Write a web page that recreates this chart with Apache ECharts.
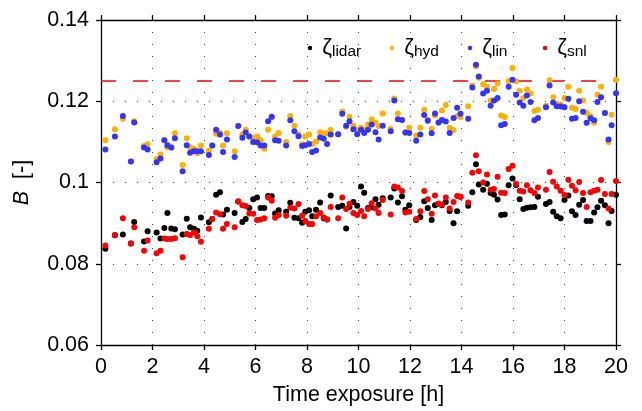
<!DOCTYPE html>
<html>
<head>
<meta charset="utf-8">
<script src="https://cdn.jsdelivr.net/npm/echarts@6/dist/echarts.min.js"></script>
<style>
html,body{margin:0;padding:0;background:#fff;}
#chart{width:642px;height:411px;}
</style>
</head>
<body>
<div id="chart"></div>
<script>
// time exposure [h]
var times = [
0.17,0.54,0.85,1.16,1.29,1.67,1.81,2.16,2.31,2.46,
2.58,2.73,2.87,3.17,3.33,3.46,3.61,3.74,3.88,4.19,
4.32,4.47,4.62,4.74,4.89,5.19,5.33,5.49,5.62,5.76,
5.91,6.06,6.20,6.34,6.49,6.63,6.76,6.90,7.19,7.35,
7.51,7.67,7.81,7.93,8.08,8.20,8.35,8.51,8.65,8.78,
8.92,9.21,9.37,9.52,9.65,9.80,9.95,10.10,10.22,10.37,
10.51,10.66,10.78,10.94,11.25,11.39,11.53,11.69,11.82,11.97,
12.24,12.40,12.55,12.69,12.84,12.97,13.11,13.24,13.39,13.54,
13.69,13.83,13.96,14.26,14.42,14.56,14.67,14.84,14.99,15.13,
15.26,15.40,15.54,15.68,15.83,15.98,16.12,16.26,16.40,16.54,
16.68,16.83,16.97,17.28,17.42,17.56,17.70,17.85,18.00,18.15,
18.29,18.43,18.57,18.72,18.86,19.01,19.15,19.28,19.42,19.57,
19.71,19.83,20.00];

var lidar = [
.0837,.0870,.0872,.0850,.0903,.0855,.0880,.0877,.0862,.0888,
.0925,.0887,.0885,.0872,.0911,.0890,.0886,.0881,.0914,.0902,
.0910,.0970,.0976,.0921,.0933,.0925,.0953,.0903,.0910,.0937,
.0959,.0963,.0937,.0937,.0967,.0966,.0924,.0932,.0928,.0950,
.0913,.0912,.0901,.0928,.0932,.0917,.0933,.0951,.0912,.0909,
.0968,.0940,.0943,.0887,.0940,.0952,.0943,.0990,.0975,.0937,
.0939,.0959,.0945,.0961,.0963,.0985,.0951,.0966,.0933,.0944,
.0908,.0915,.0954,.0937,.0908,.0944,.0948,.0944,.0952,.0930,
.0900,.0929,.0965,.0943,.0976,.1045,.0995,.0982,.0997,.0974,
.0970,.0958,.0920,.0921,.0993,.1010,.0994,.0959,.0935,.0938,
.0939,.0940,.0965,.0947,.0952,.0928,.0917,.0912,.0957,.0968,
.0929,.0920,.0945,.0957,.0905,.0905,.0926,.0939,.0955,.0944,
.0900,.0930,.0970];

var hyd = [
.1104,.1131,.1157,.1052,.1151,.1090,.1094,.1057,.1069,.1104,
.1087,.1086,.1121,.1043,.1109,.1087,.1083,.1072,.1091,.1078,
.1091,.1120,.1122,.1091,.1121,.1077,.1139,.1118,.1130,.1113,
.1110,.1113,.1104,.1083,.1130,.1160,.1113,.1122,.1100,.1164,
.1140,.1119,.1094,.1113,.1118,.1095,.1101,.1124,.1121,.1121,
.1129,.1119,.1175,.1137,.1162,.1140,.1130,.1135,.1130,.1143,
.1156,.1148,.1139,.1170,.1132,.1207,.1170,.1154,.1123,.1135,
.1116,.1135,.1179,.1155,.1132,.1165,.1148,.1177,.1191,.1135,
.1129,.1163,.1161,.1188,.1239,.1286,.1258,.1242,.1236,.1202,
.1230,.1244,.1165,.1161,.1249,.1282,.1249,.1226,.1208,.1229,
.1219,.1176,.1179,.1189,.1252,.1210,.1193,.1192,.1208,.1236,
.1184,.1181,.1226,.1202,.1171,.1163,.1147,.1216,.1236,.1171,
.1100,.1167,.1253];

var lin = [
.1081,.1113,.1164,.1052,.1148,.1086,.1081,.1050,.1059,.1104,
.1092,.1086,.1109,.1028,.1092,.1073,.1077,.1077,.1077,.1068,
.1091,.1130,.1118,.1075,.1106,.1063,.1139,.1110,.1123,.1113,
.1100,.1099,.1091,.1091,.1151,.1162,.1104,.1103,.1091,.1153,
.1126,.1114,.1090,.1092,.1095,.1075,.1079,.1111,.1108,.1095,
.1118,.1119,.1169,.1140,.1151,.1131,.1119,.1130,.1122,.1130,
.1143,.1124,.1106,.1140,.1126,.1202,.1156,.1154,.1123,.1122,
.1103,.1118,.1166,.1152,.1121,.1170,.1148,.1154,.1150,.1122,
.1159,.1184,.1169,.1157,.1234,.1290,.1261,.1219,.1226,.1189,
.1202,.1208,.1141,.1144,.1236,.1253,.1216,.1197,.1189,.1214,
.1198,.1153,.1159,.1185,.1239,.1197,.1188,.1187,.1185,.1206,
.1157,.1159,.1200,.1174,.1147,.1158,.1153,.1198,.1210,.1171,
.1106,.1141,.1220];

var snl = [
.0845,.0871,.0912,.0850,.0890,.0832,.0857,.0826,.0832,.0862,
.0861,.0861,.0863,.0816,.0873,.0871,.0877,.0868,.0854,.0886,
.0910,.0926,.0922,.0886,.0898,.0890,.0953,.0944,.0942,.0924,
.0923,.0908,.0909,.0912,.0963,.0955,.0913,.0920,.0918,.0938,
.0936,.0947,.0918,.0905,.0898,.0898,.0917,.0925,.0914,.0909,
.0940,.0912,.0963,.0935,.0948,.0925,.0920,.0930,.0917,.0935,
.0949,.0936,.0925,.0957,.0921,.0990,.0988,.0979,.0926,.0928,
.0910,.0929,.0979,.0959,.0923,.0968,.0948,.0946,.0963,.0936,
.0952,.0967,.0965,.0951,.1024,.1067,.1028,.1000,.1020,.0982,
.0984,.1014,.0975,.0974,.1033,.1041,.0997,.0980,.0978,.0993,
.0981,.0974,.0988,.0982,.1026,.1002,.0990,.0980,.0969,.1007,
.0992,.0981,.1001,.0974,.0940,.0976,.0980,.0982,.1006,.0972,
.0936,.0972,.1004];

var refLevel = 0.125;
var xTicks = {min: 0, max: 20, interval: 2};
var yTicks = {min: 0.06, max: 0.14, interval: 0.02};
var seriesNames = ['ζlidar', 'ζhyd', 'ζlin', 'ζsnl'];
var seriesColors = ['#000000', '#FFB000', '#3434FF', '#FF0000'];
var seriesData = [lidar, hyd, lin, snl];

function pairs(vals) {
  return vals.map(function (v, i) { return [times[i], v]; });
}

var FONT = 'Liberation Sans';
var FS = 21.5;
var axisLineStyle = {color: '#000', width: 1.3};

var chart = echarts.init(document.getElementById('chart'), null, {renderer: 'canvas'});

var series = seriesNames.map(function (n, k) {
  return {
    name: n, type: 'scatter', data: pairs(seriesData[k]),
    symbol: 'circle', symbolSize: 6,
    itemStyle: {color: seriesColors[k], opacity: 1},
    z: 3 + k
  };
});
series.push({
  name: 'ref', type: 'line', data: [[xTicks.min, refLevel], [xTicks.max, refLevel]],
  symbol: 'none', silent: true, z: 2,
  lineStyle: {color: '#FF0000', width: 1.4, type: [15, 17]}
});

// one legend block per entry so each key sits where it does in the figure
var legendLeft = [307.75, 389.75, 467.75, 542.75];
var legends = seriesNames.map(function (n, k) {
  return {
    data: [n], left: legendLeft[k], top: 37, padding: 0,
    itemWidth: 4.5, itemHeight: 4.5, icon: 'circle',
    formatter: function (s) { return '{z|' + s.charAt(0) + '}{s|' + s.slice(1) + '}'; },
    textStyle: {
      color: '#000', fontFamily: FONT,
      rich: {
        z: {fontSize: 22, lineHeight: 24, fontFamily: FONT, color: '#000', padding: [0, 0, 0, 5]},
        s: {fontSize: 15.5, lineHeight: 12, verticalAlign: 'bottom', fontFamily: FONT, color: '#000'}
      }
    }
  };
});

var option = {
  animation: false,
  backgroundColor: '#fff',
  grid: {left: 101, right: 26, top: 20, bottom: 64, containLabel: false},
  legend: legends,
  xAxis: [{
    type: 'value', min: xTicks.min, max: xTicks.max, interval: xTicks.interval,
    position: 'bottom',
    name: 'Time exposure [h]', nameLocation: 'middle', nameGap: 39,
    nameTextStyle: {color: '#000', fontSize: FS, fontFamily: FONT},
    axisLine: {show: true, onZero: false, lineStyle: axisLineStyle},
    axisTick: {show: true, inside: false, length: 5, lineStyle: axisLineStyle},
    axisLabel: {color: '#000', fontSize: FS, fontFamily: FONT, margin: 11},
    splitLine: {show: true, lineStyle: {color: '#444', width: 1, type: [1, 11]}}
  }, {
    type: 'value', min: xTicks.min, max: xTicks.max, interval: xTicks.interval,
    position: 'top',
    axisLine: {show: true, onZero: false, lineStyle: axisLineStyle},
    axisTick: {show: true, inside: false, length: 5, lineStyle: axisLineStyle},
    axisLabel: {show: false}, splitLine: {show: false}
  }],
  yAxis: [{
    type: 'value', min: yTicks.min, max: yTicks.max, interval: yTicks.interval,
    position: 'left',
    name: '{i|B}  [-]', nameLocation: 'middle', nameGap: 68,
    nameTextStyle: {color: '#000', fontSize: FS, fontFamily: FONT,
      rich: {i: {fontStyle: 'italic', fontSize: FS, fontFamily: FONT, color: '#000'}}},
    axisLine: {show: true, onZero: false, lineStyle: axisLineStyle},
    axisTick: {show: true, inside: false, length: 5, lineStyle: axisLineStyle},
    axisLabel: {color: '#000', fontSize: FS, fontFamily: FONT, margin: 12,
      formatter: function (v) { return String(Math.round(v * 100) / 100); }},
    splitLine: {show: true, lineStyle: {color: '#444', width: 1, type: [1, 11]}}
  }, {
    type: 'value', min: yTicks.min, max: yTicks.max, interval: yTicks.interval,
    position: 'right',
    axisLine: {show: true, onZero: false, lineStyle: axisLineStyle},
    axisTick: {show: true, inside: false, length: 5, lineStyle: axisLineStyle},
    axisLabel: {show: false}, splitLine: {show: false}
  }],
  series: series
};
chart.setOption(option);
</script>
</body>
</html>
